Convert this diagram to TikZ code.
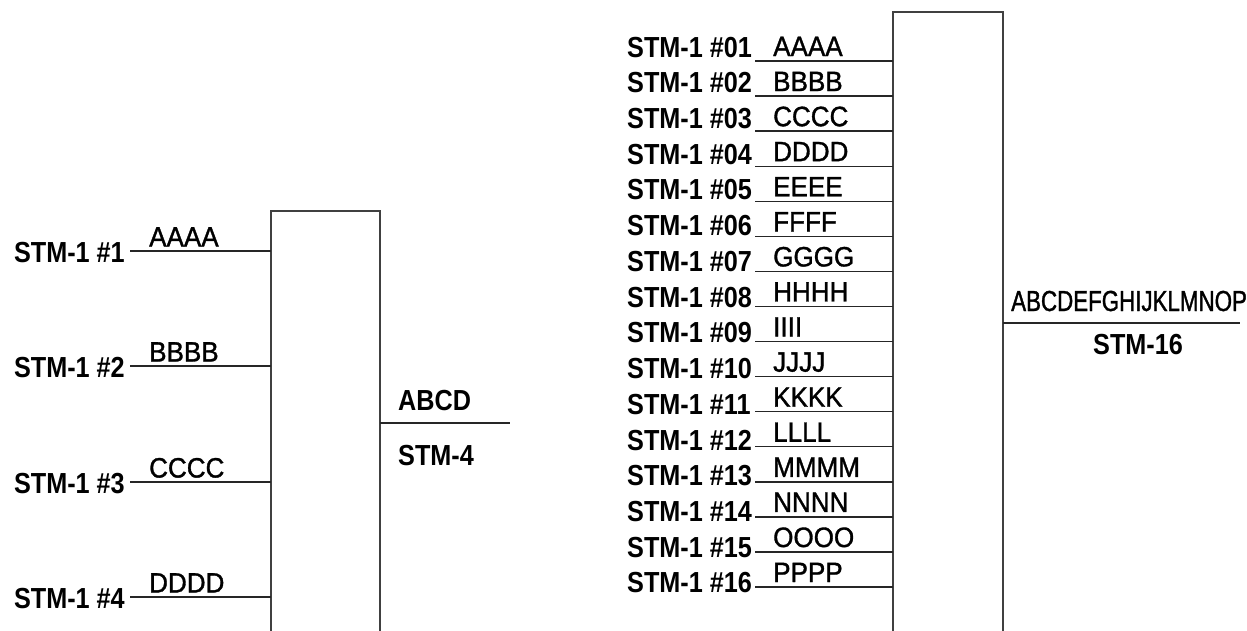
\documentclass[tikz,border=0pt]{standalone}
\usepackage{fontspec}
\newfontfamily\stmfont{Liberation Sans}[FakeStretch=0.87]
\newfontfamily\letfont{Liberation Sans}[FakeStretch=0.93,FakeBold=1.2]
\newfontfamily\widefont{Liberation Sans}[FakeStretch=0.77,FakeBold=1.2]
\begin{document}
\begin{tikzpicture}[x=1pt,y=-1pt,
  stm/.style={font=\stmfont\bfseries\fontsize{29}{29}\selectfont, inner sep=0pt},
  let/.style={font=\letfont\fontsize{28}{28}\selectfont, inner sep=0pt},
  wide/.style={font=\widefont\fontsize{29}{29}\selectfont, inner sep=0pt},
  wire/.style={line width=1.4pt, draw=black!85},
  boxline/.style={line width=2pt, draw=black!75}]
\useasboundingbox (0,0) rectangle (1247,630);

% ---------- left: STM-4 multiplexer ----------
\draw[boxline] (271,634) -- (271,211) -- (380,211) -- (380,634);
\foreach \k/\y/\L in {1/251/AAAA,2/366/BBBB,3/482/CCCC,4/597/DDDD} {
  \node[stm, anchor=base east] (ls\k) at (125,\y+11) {STM-1 \#\k};
  \node[let, anchor=base west] (ll\k) at (149,\y-4.5) {\L};
  \coordinate (lin\k) at (130,\y);
  \coordinate (lbx\k) at (271,\y);
  \draw[wire] (lin\k) -- (lbx\k);
}
\coordinate (lout1) at (380,423);
\coordinate (lout2) at (510,423);
\draw[wire] (lout1) -- (lout2);
\node[stm, anchor=base west] (abcd) at (398,410) {ABCD};
\node[stm, anchor=base west] (stm4) at (398,465) {STM-4};

% ---------- right: STM-16 multiplexer ----------
\draw[boxline] (893,634) -- (893,12) -- (1003,12) -- (1003,634);
\foreach \k/\n/\L in {1/01/AAAA,2/02/BBBB,3/03/CCCC,4/04/DDDD,5/05/EEEE,6/06/FFFF,
    7/07/GGGG,8/08/HHHH,9/09/IIII,10/10/JJJJ,11/11/KKKK,12/12/LLLL,13/13/MMMM,
    14/14/NNNN,15/15/OOOO,16/16/PPPP} {
  \pgfmathsetmacro\ly{61+35.07*(\k-1)}
  \pgfmathsetmacro\sy{57+35.73*(\k-1)}
  \node[stm, anchor=base west] (rs\k) at (627,\sy) {STM-1 \#\n};
  \node[let, anchor=base west] (rl\k) at (773,\ly-5) {\L};
  \coordinate (rin\k) at (755,\ly);
  \coordinate (rbx\k) at (893,\ly);
  \draw[wire] (rin\k) -- (rbx\k);
}
\coordinate (rout1) at (1003,323);
\coordinate (rout2) at (1240,323);
\draw[wire] (rout1) -- (rout2);
\node[wide, anchor=base west] (abcp) at (1011,311) {ABCDEFGHIJKLMNOP};
\node[stm, anchor=base west] (stm16) at (1093,354) {STM-16};
\end{tikzpicture}
\end{document}
